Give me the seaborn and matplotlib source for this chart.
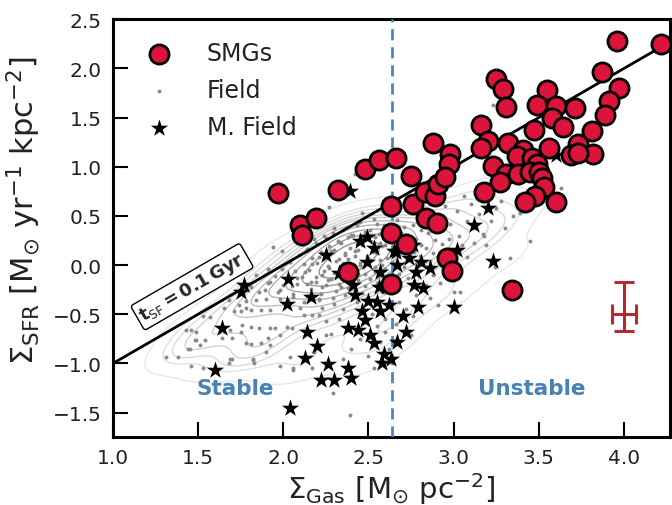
import matplotlib
matplotlib.use("Agg")
import matplotlib.pyplot as plt
import seaborn as sns
import numpy as np
import pandas as pd

# ---------------- data ----------------
smg_x = [1.97, 2.10, 2.19, 2.11, 2.32, 2.48, 2.56, 2.66, 2.63, 2.63, 2.38, 2.63, 2.72,
         2.75, 2.76, 2.83, 2.84, 2.89, 2.90, 2.91, 2.88, 2.98, 2.97, 2.95, 2.96, 2.99,
         3.34, 3.96, 4.22, 3.25, 3.29, 3.31, 3.55, 3.49, 3.60, 3.71, 3.87, 3.97, 3.91,
         3.89, 3.58, 3.64, 3.47, 3.16, 3.81, 3.20, 3.16, 3.32, 3.73, 3.56, 3.41, 3.69,
         3.82, 3.37, 3.46, 3.23, 3.49, 3.31, 3.38, 3.45, 3.50, 3.27, 3.52, 3.53, 3.18,
         3.48, 3.42, 3.60, 3.73]
smg_y = [0.73, 0.41, 0.48, 0.31, 0.76, 0.98, 1.07, 1.09, 0.60, 0.33, -0.07, -0.19, 0.21,
         0.91, 0.62, 0.74, 0.48, 0.70, 0.43, 0.82, 1.24, 1.13, 1.03, 0.90, 0.07, -0.06,
         -0.25, 2.28, 2.25, 1.89, 1.79, 1.61, 1.78, 1.63, 1.62, 1.60, 1.96, 1.80, 1.67,
         1.53, 1.50, 1.40, 1.37, 1.42, 1.36, 1.26, 1.19, 1.24, 1.23, 1.19, 1.17, 1.12,
         1.13, 1.11, 1.09, 1.01, 1.03, 0.93, 0.93, 0.95, 0.95, 0.85, 0.89, 0.79, 0.74,
         0.70, 0.64, 0.64, 1.14]

mfield_x = [2.39, 2.25, 2.49, 2.45, 2.53, 2.49, 1.77, 1.75, 2.03, 2.16, 2.02, 2.33, 2.41,
            2.42, 2.50, 2.55, 2.57, 2.62, 2.46, 2.48, 2.38, 2.44, 1.64, 2.14, 2.20, 2.51,
            2.53, 2.13, 2.26, 2.22, 2.30, 2.38, 2.40, 1.60, 2.04, 2.59, 2.58, 2.63, 2.67,
            2.57, 2.66, 2.67, 2.74, 2.78, 2.81, 2.86, 2.77, 2.82, 2.79, 3.00, 3.02, 2.70,
            2.72, 3.20, 3.12, 3.23, 3.60, 2.76, 2.65, 2.56]
mfield_y = [0.75, 0.10, 0.29, 0.25, 0.17, 0.03, -0.20, -0.27, -0.14, -0.32, -0.40, -0.08, -0.20,
            -0.30, -0.37, -0.38, -0.47, -0.41, -0.47, -0.56, -0.64, -0.66, -0.64, -0.68, -0.82, -0.71,
            -0.79, -0.94, -1.01, -1.17, -1.17, -1.05, -1.15, -1.07, -1.45, -0.90, -1.00, -0.95, -0.78,
            -0.07, 0.13, 0.00, 0.07, -0.07, 0.03, -0.03, -0.20, -0.23, -0.43, -0.43, 0.15, -0.52,
            -0.68, 0.58, 0.41, 0.04, 1.12, 0.20, 0.14, -0.22]

field_x = [2.45, 2.53, 2.59, 2.67, 2.71, 2.37, 2.43, 2.51, 2.55, 2.62, 2.69, 2.76, 2.81,
           2.29, 2.35, 2.41, 2.48, 2.54, 2.59, 2.65, 2.72, 2.78, 2.85,
           2.25, 2.32, 2.38, 2.44, 2.50, 2.57, 2.61, 2.67, 2.74, 2.81, 2.89,
           2.19, 2.27, 2.33, 2.39, 2.46, 2.52, 2.58, 2.64, 2.70, 2.77, 2.84, 2.93,
           2.14, 2.22, 2.30, 2.36, 2.42, 2.49, 2.55, 2.61, 2.68, 2.74, 2.80, 2.88, 2.96,
           2.09, 2.17, 2.25, 2.31, 2.38, 2.45, 2.51, 2.58, 2.64, 2.71, 2.78, 2.86,
           2.04, 2.12, 2.20, 2.27, 2.34, 2.41, 2.47, 2.54, 2.60, 2.68, 2.76,
           1.99, 2.07, 2.15, 2.23, 2.30, 2.37, 2.44, 2.51, 2.57, 2.65, 2.73,
           1.95, 2.03, 2.11, 2.19, 2.26, 2.33, 2.40, 2.48, 2.55, 2.63,
           1.91, 2.00, 2.08, 2.16, 2.23, 2.31, 2.38, 2.46, 2.58,
           1.97, 2.06, 2.14, 2.22, 2.29, 2.36, 2.49,
           2.03, 2.12, 2.21, 2.30, 2.43,
           2.40, 2.47, 2.56, 2.63, 2.34, 2.43, 2.52, 2.60, 2.28, 2.36, 2.44, 2.53,
           2.21, 2.33, 2.42, 2.50, 2.57, 2.17, 2.26, 2.35, 2.45, 2.54, 2.13, 2.24,
           2.32, 2.39, 2.48, 2.08, 2.19, 2.28, 2.36, 2.44, 2.05, 2.14, 2.25, 2.34,
           2.92, 2.98, 3.03, 3.08, 3.12, 3.15, 3.02, 2.95, 3.10, 3.18, 3.22, 3.25, 3.05,
           3.12, 2.99, 3.08, 3.19, 3.17, 3.30, 3.35, 3.39, 3.28, 3.33, 3.24, 3.04, 3.00,
           2.91, 3.20, 3.63, 3.23, 2.85, 2.90, 2.97, 2.83, 3.06, 3.13, 2.88, 2.95, 2.84,
           2.92, 2.78, 2.86, 2.75, 2.60, 2.42, 2.27, 2.46, 2.18, 2.24, 2.30, 1.94, 1.99,
           1.91, 3.45,
           2.35, 2.52, 2.60, 2.66, 2.72, 2.55, 2.45, 2.40, 2.62, 2.53, 2.29, 2.39, 2.50,
           2.68, 2.76, 2.33, 2.28, 2.35, 2.57,
           1.43, 1.46, 1.49, 1.53, 1.57, 1.65, 1.68, 1.71, 1.74, 1.75, 1.78, 1.81, 1.87,
           1.92, 1.78, 1.84, 1.86, 1.89, 1.90, 1.98, 1.98, 2.06, 2.10, 2.12, 2.17, 2.21,
           2.25, 2.02, 2.05, 1.95, 1.92, 1.86, 1.81, 1.76, 1.75, 1.69, 1.64, 1.70, 1.78,
           1.81, 1.87, 1.92, 1.90, 1.82, 1.83, 1.70, 1.68, 1.54, 1.48, 1.45, 1.51, 1.46,
           1.53, 1.98, 2.04, 2.06, 2.17, 2.18, 2.25, 1.91, 1.98, 2.21, 2.23, 2.16, 1.92,
           1.84, 1.81, 1.31, 1.38, 1.44, 1.49, 1.69, 1.82, 2.06]
field_y = [0.44, 0.47, 0.41, 0.46, 0.39, 0.38, 0.41, 0.36, 0.42, 0.37, 0.33, 0.41, 0.36,
           0.33, 0.36, 0.31, 0.34, 0.29, 0.33, 0.28, 0.31, 0.27, 0.33,
           0.28, 0.25, 0.29, 0.24, 0.27, 0.22, 0.26, 0.21, 0.24, 0.20, 0.26,
           0.22, 0.19, 0.23, 0.17, 0.20, 0.16, 0.19, 0.14, 0.18, 0.13, 0.17, 0.21,
           0.16, 0.13, 0.15, 0.10, 0.14, 0.09, 0.12, 0.07, 0.11, 0.06, 0.09, 0.12, 0.16,
           0.10, 0.07, 0.09, 0.04, 0.06, 0.02, 0.05, 0.00, 0.03, -0.02, 0.01, 0.04,
           0.03, 0.01, 0.02, -0.03, -0.01, -0.05, -0.02, -0.07, -0.04, -0.09, -0.06,
           -0.04, -0.06, -0.05, -0.10, -0.08, -0.12, -0.09, -0.14, -0.11, -0.16, -0.13,
           -0.11, -0.13, -0.12, -0.17, -0.15, -0.19, -0.16, -0.21, -0.18, -0.23,
           -0.18, -0.20, -0.19, -0.24, -0.22, -0.26, -0.23, -0.28, -0.27,
           -0.27, -0.29, -0.31, -0.29, -0.33, -0.30, -0.33,
           -0.36, -0.38, -0.36, -0.40, -0.38,
           0.31, 0.29, 0.32, 0.30, 0.22, 0.21, 0.23, 0.20, 0.14, 0.12, 0.15, 0.13,
           0.08, 0.06, 0.09, 0.07, 0.05, 0.01, -0.01, 0.02, 0.00, -0.02, -0.07, -0.06,
           -0.08, -0.05, -0.09, -0.13, -0.12, -0.14, -0.11, -0.15, -0.21, -0.19, -0.20, -0.22,
           0.35, 0.42, 0.30, 0.45, 0.38, 0.52, 0.55, 0.60, 0.62, 0.30, 0.45, 0.58, 0.20,
           0.22, 0.12, 0.08, 0.20, 0.32, 0.38, 0.50, 0.53, 0.65, 0.07, -0.02, -0.27, -0.27,
           -0.41, 0.78, 0.78, 1.63, 0.55, 0.48, 0.27, 0.45, 0.70, 0.72, -0.10, -0.05, -0.20,
           -0.18, -0.30, -0.33, -0.71, -0.68, 0.93, 0.59, 0.53, 0.27, 0.30, 0.38, 0.18, 0.14,
           -0.04, 0.25,
           -0.45, -0.50, -0.55, -0.60, -0.45, -0.62, -0.75, -0.85, -0.85, -1.05, -1.30, -1.52, -0.92,
           -0.38, -0.52, -0.55, -0.70, -0.95, -0.78,
           -0.66, -0.66, -0.68, -0.52, -0.53, -0.44, -0.35, -0.47, -0.41, -0.47, -0.44, -0.46, -0.46,
           -0.46, -0.37, -0.35, -0.27, -0.25, -0.34, -0.34, -0.25, -0.32, -0.44, -0.51, -0.51, -0.51,
           -0.57, -0.63, -0.64, -0.64, -0.64, -0.64, -0.63, -0.61, -0.68, -0.66, -0.74, -0.74, -0.79,
           -0.80, -0.79, -0.81, -0.88, -0.95, -1.00, -0.95, -1.00, -0.76, -0.76, -0.85, -0.81, -1.03,
           -1.05, -1.03, -0.93, -1.07, -1.05, -0.88, -0.71, -0.74, -0.71, -0.34, -0.44, -0.17, -0.17,
           -0.10, -0.22, -0.93, -0.93, -0.85, -0.76, -0.95, -0.96, -1.05]

xticks = [1.0, 1.5, 2.0, 2.5, 3.0, 3.5, 4.0]
yticks = [-1.5, -1.0, -0.5, 0.0, 0.5, 1.0, 1.5, 2.0, 2.5]
line_x = [1.0, 4.22]
line_y = [-1.0, 2.22]
toomre_x = 2.64
err_x, err_y = 4.0, -0.5
err_xerr = 0.07
err_yerr_low, err_yerr_high = 0.17, 0.33

smg = pd.DataFrame({"x": smg_x, "y": smg_y})
mfield = pd.DataFrame({"x": mfield_x, "y": mfield_y})
field = pd.DataFrame({"x": field_x, "y": field_y})

# ---------------- figure ----------------
sns.set_style("white")
plt.rcParams["font.family"] = ["DejaVu Sans"]
plt.rcParams["mathtext.fontset"] = "dejavusans"

fig = plt.figure(figsize=(6.72, 5.06), dpi=100)
ax = fig.add_axes([0.168, 0.134, 0.829, 0.826])

# density contours of the field galaxies
sns.kdeplot(data=field, x="x", y="y", ax=ax, levels=12, thresh=0.05,
            cmap=sns.blend_palette(["#e6e6e6", "#b0b0b0", "#7a7a7a"], as_cmap=True),
            linewidths=1.0, alpha=0.9, bw_adjust=0.85, zorder=1)

sns.scatterplot(data=field, x="x", y="y", ax=ax, s=8, color="#8a8a8a",
                linewidth=0, label="Field", zorder=2)
ax.plot(line_x, line_y, color="black", lw=2, zorder=3)
sns.scatterplot(data=mfield, x="x", y="y", ax=ax, marker="*", s=170, color="black",
                linewidth=0, label="M. Field", zorder=4)
sns.scatterplot(data=smg, x="x", y="y", ax=ax, s=190, color="#DC143C", edgecolor="black",
                linewidth=2, label="SMGs", zorder=5)

ax.axvline(toomre_x, color="#4A86BE", ls=(0, (4, 2.5)), lw=2, zorder=3)

ax.errorbar([err_x], [err_y], xerr=[[err_xerr], [err_xerr]],
            yerr=[[err_yerr_low], [err_yerr_high]], color="#B8292F", lw=2.2,
            capsize=7, capthick=2.2, zorder=6)

ax.text(1.72, -1.25, "Stable", color="#4682B4", fontsize=15.5, fontweight="bold",
        ha="center", va="center")
ax.text(3.46, -1.25, "Unstable", color="#4682B4", fontsize=15.5, fontweight="bold",
        ha="center", va="center")
ax.text(1.465, -0.22, r"$\mathbf{t}_{\rm SF}\mathbf{=0.1\,Gyr}$", fontsize=13,
        rotation=30, ha="center", va="center", zorder=7,
        bbox=dict(boxstyle="round,pad=0.2,rounding_size=0.15", fc="white", ec="black", lw=1))

ax.set_xlim(1.0, 4.27)
ax.set_ylim(-1.75, 2.5)
ax.set_xticks(xticks)
ax.set_yticks(yticks)
ax.tick_params(direction="in", length=11, width=1.5, labelsize=14.5, pad=8,
               bottom=True, left=True, top=False, right=False, colors="black",
               labelcolor="#222222")
for sp in ax.spines.values():
    sp.set_linewidth(2.2)
    sp.set_color("black")
ax.set_xlabel(r"$\Sigma_{\rm Gas}$ [M$_{\odot}$ pc$^{-2}$]", fontsize=21, labelpad=2,
              color="#222222")
ax.set_ylabel(r"$\Sigma_{\rm SFR}$ [M$_{\odot}$ yr$^{-1}$ kpc$^{-2}$]", fontsize=22,
              color="#222222")
ax.yaxis.set_label_coords(-0.125, 0.545)

h, l = ax.get_legend_handles_labels()
order = [l.index("SMGs"), l.index("Field"), l.index("M. Field")]
leg = ax.legend([h[i] for i in order], [l[i] for i in order], loc="upper left",
                frameon=False, fontsize=17, labelspacing=0.55, handletextpad=1.0,
                borderaxespad=0.0, bbox_to_anchor=(0.024, 0.97))
for t in leg.get_texts():
    t.set_color("#222222")

fig.savefig("out.png", dpi=100)
